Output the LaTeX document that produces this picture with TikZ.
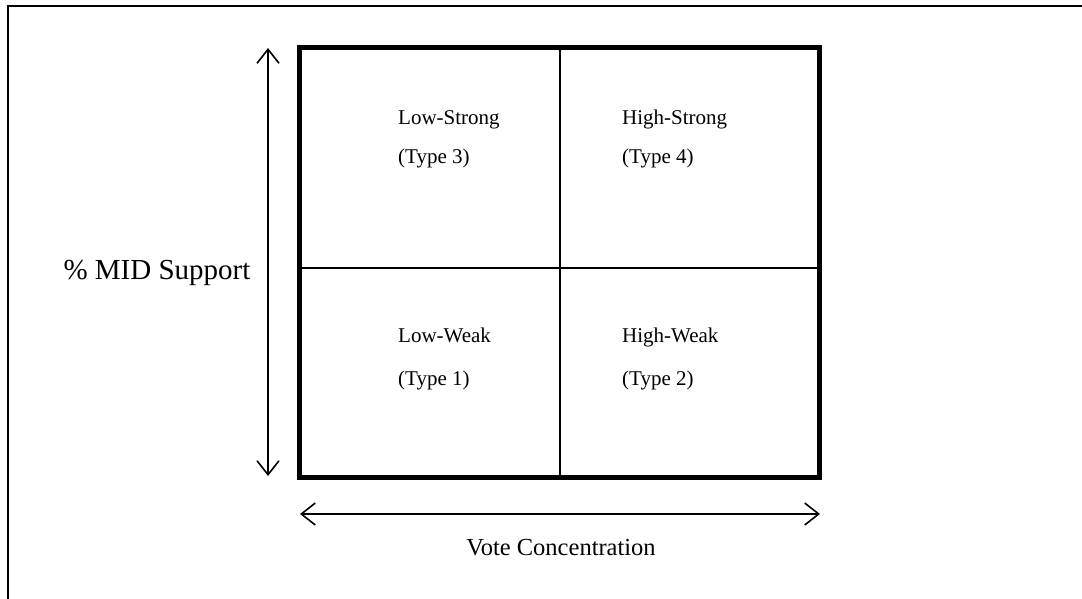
\documentclass[tikz,border=0pt]{standalone}
\usepackage{fontspec}
\setmainfont{Liberation Serif}
\usetikzlibrary{arrows.meta,positioning}

\begin{document}
\begin{tikzpicture}[
    x=1pt,y=-1pt,
    frame/.style={line width=2pt,draw=black},
    grid/.style={line width=5pt,draw=black,line cap=rect},
    divider/.style={line width=1.5pt,draw=black},
    cell/.style={anchor=base west,inner sep=0pt,font=\fontsize{21}{24}\selectfont},
    axislabel/.style={inner sep=0pt},
    arr/.style={{Straight Barb[length=14pt,width=22pt]}-{Straight Barb[length=14pt,width=22pt]},line width=1.6pt,draw=black}
]
\useasboundingbox (0,0) rectangle (1082,599);
% outer frame (cut off at right and bottom)
\draw[frame] (8,599) -- (8,6) -- (1082,6);
% the 2x2 box
\coordinate (nw) at (299,48);
\coordinate (se) at (819,477);
\coordinate (tm) at (560,48);
\coordinate (bm) at (560,477);
\coordinate (lm) at (299,268);
\coordinate (rm) at (819,268);
\draw[divider] (tm) -- (bm);
\draw[divider] (lm) -- (rm);
\draw[grid] (nw) rectangle (se);
% cell labels
\node[cell] (ls) at (398,125) {Low-Strong};
\node[cell] (t3) at (398,164) {(Type 3)};
\node[cell] (hs) at (622,125) {High-Strong};
\node[cell] (t4) at (622,164) {(Type 4)};
\node[cell] (lw) at (398,342) {Low-Weak};
\node[cell] (t1) at (398,385) {(Type 1)};
\node[cell] (hw) at (622,342) {High-Weak};
\node[cell] (t2) at (622,385) {(Type 2)};
% axes
\coordinate (vtop) at (268,48);
\coordinate (vbot) at (268,476);
\coordinate (hleft) at (300,514);
\coordinate (hright) at (820,514);
\draw[arr] (vtop) -- (vbot);
\draw[arr] (hleft) -- (hright);
\node[axislabel,font=\fontsize{29}{34}\selectfont] (mid) at (157,273) {\% MID Support};
\node[axislabel,font=\fontsize{24.5}{29}\selectfont] (vote) at (561,548) {Vote Concentration};
\end{tikzpicture}
\end{document}
